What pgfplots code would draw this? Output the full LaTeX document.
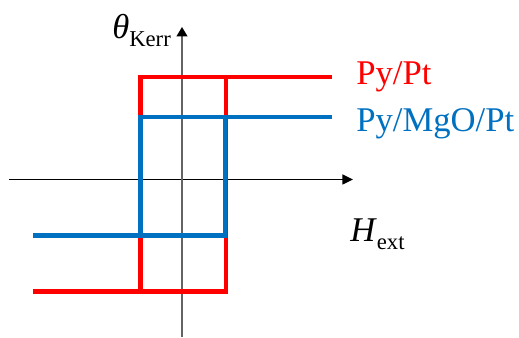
\documentclass[border=0pt]{standalone}
\usepackage{pgfplots}
\pgfplotsset{compat=1.18}
\usepackage{fontspec}
\setmainfont{Liberation Serif}
\usetikzlibrary{arrows.meta}
\definecolor{loopred}{RGB}{255,0,0}
\definecolor{loopblue}{RGB}{0,112,192}
\definecolor{axisgray}{RGB}{100,100,100}
\begin{document}
\begin{tikzpicture}
% page frame (1 unit = 0.75pt)
\path[use as bounding box] (-136.5pt,-118.875pt) rectangle (252.75pt,134.625pt);
\begin{axis}[
  at={(0,0)}, anchor=origin,
  x=0.75pt, y=0.75pt,
  xmin=-173, xmax=171, ymin=-157.5, ymax=152.5,
  axis lines=middle,
  xtick=\empty, ytick=\empty,
  clip=false,
  x axis line style={black, line width=1.1pt, -{Triangle[length=8pt,width=7.5pt]}},
  y axis line style={axisgray, line width=1.3pt, -{Triangle[length=7pt,width=8pt,color=black]}},
  every axis plot/.append style={line width=3.5pt, line cap=butt, line join=miter, mark=none},
]
% Py/Pt loop
\addplot[loopred] coordinates {(-149,-112) (44,-112) (44,102.5) (150,102.5)};
\addplot[loopred] coordinates {(150,102.5) (-41.5,102.5) (-41.5,-112)};
% Py/MgO/Pt loop
\addplot[loopblue] coordinates {(-149,-56) (43,-56) (43,62.5) (150,62.5)};
\addplot[loopblue] coordinates {(150,62.5) (-41.5,62.5) (-41.5,-56)};

\node[anchor=base west, inner sep=0pt, font=\fontsize{26}{31}\selectfont, text=loopred]
  at (axis cs:174,94.5) {Py/Pt};
\node[anchor=base west, inner sep=0pt, font=\fontsize{26}{31}\selectfont, text=loopblue]
  at (axis cs:174,47.5) {Py/MgO/Pt};
\node[anchor=base west, inner sep=0pt, font=\fontsize{26}{31}\selectfont]
  at (axis cs:-70,140.5) {\textit{θ}\raisebox{-6pt}{\fontsize{17}{20}\selectfont Kerr}};
\node[anchor=base west, inner sep=0pt, font=\fontsize{26}{31}\selectfont]
  at (axis cs:168,-62.5) {\textit{H}\raisebox{-6pt}{\fontsize{17}{20}\selectfont ext}};
\end{axis}
\end{tikzpicture}
\end{document}
